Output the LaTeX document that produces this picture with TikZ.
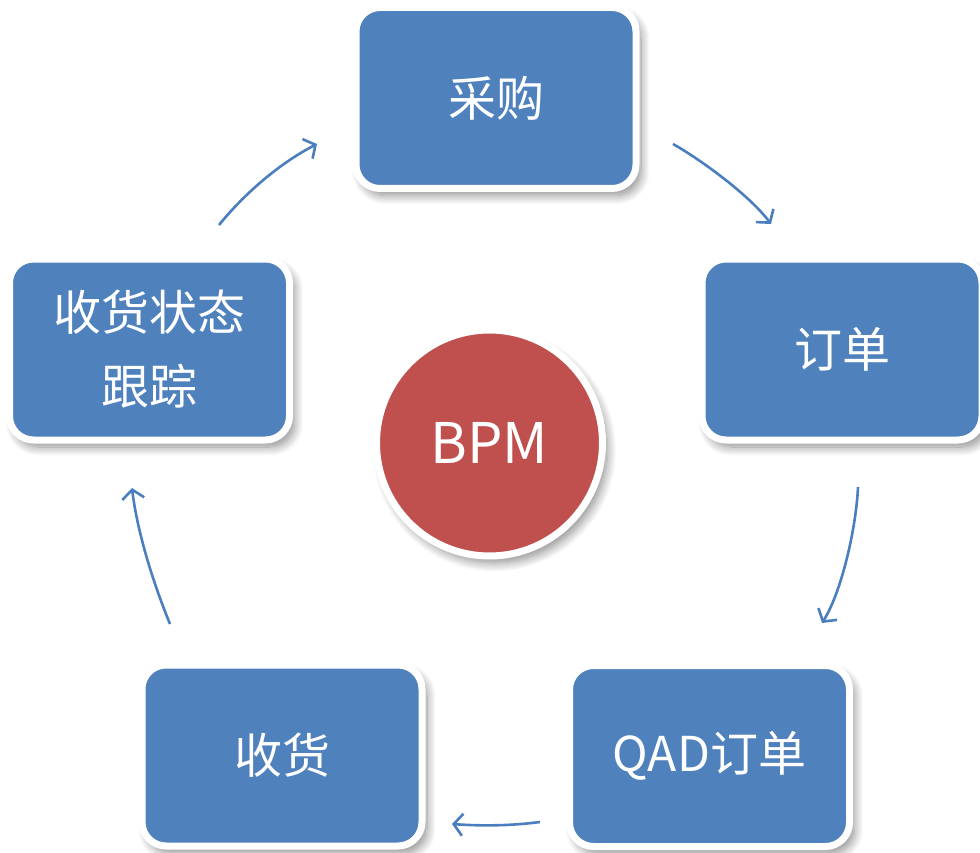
\documentclass[tikz,border=0pt]{standalone}
\usepackage{fontspec}
\setmainfont{Noto Sans CJK SC}
\usetikzlibrary{shadows.blur,arrows.meta}
\definecolor{boxblue}{HTML}{4F81BD}
\definecolor{bpmred}{HTML}{C0504D}
\definecolor{arrowblue}{HTML}{4A7EBF}
\tikzset{
  stagebox/.style={rectangle, rounded corners=24pt, fill=boxblue, draw=white,
    line width=7pt, minimum width=280pt, minimum height=181pt, inner sep=0pt,
    text=white, font=\fontsize{48}{74}\selectfont, align=center,
    blur shadow={shadow xshift=5pt, shadow yshift=-7pt, shadow blur radius=9pt,
      shadow opacity=45, shadow blur steps=12}},
  hubcircle/.style={circle, fill=bpmred, draw=white, line width=7pt,
    minimum size=226pt, inner sep=0pt, text=white,
    font=\fontsize{56}{64}\selectfont,
    blur shadow={shadow xshift=5pt, shadow yshift=-7pt, shadow blur radius=9pt,
      shadow opacity=45, shadow blur steps=12}},
  flow/.style={draw=arrowblue, line width=2.6pt,
    -{Straight Barb[length=9pt,width=22pt,line width=2.6pt]}}
}
\begin{document}
\begin{tikzpicture}[x=1pt,y=-1pt]
\useasboundingbox (0,0) rectangle (980,853);
\node[stagebox] (cg) at (496,98) {采购};
\node[stagebox] (dd) at (842,349.5) {订单};
\node[stagebox] (qad) at (709.5,756) {QAD订单};
\node[stagebox] (sh) at (282,755.5) {收货};
\node[stagebox] (zt) at (149.5,349.5) {收货状态\\跟踪};
\node[hubcircle] (bpm) at (489.5,443) {BPM};

\coordinate (a1s) at (673,144);  \coordinate (a1e) at (771,224);
\coordinate (a2s) at (858,487);  \coordinate (a2e) at (822,623);
\coordinate (a3s) at (540,822);  \coordinate (a3e) at (452,824);
\coordinate (a4s) at (170,624);  \coordinate (a4e) at (132,488);
\coordinate (a5s) at (219,225);  \coordinate (a5e) at (317,144);

\draw[flow] (a1s) .. controls (703,161) and (750,196) .. (a1e);
\draw[flow] (a2s) .. controls (856,530) and (841,593) .. (a2e);
\draw[flow] (a3s) .. controls (510,826) and (480,826) .. (a3e);
\draw[flow] (a4s) .. controls (152,580) and (137,530) .. (a4e);
\draw[flow] (a5s) .. controls (245,193) and (280,163) .. (a5e);
\end{tikzpicture}
\end{document}
